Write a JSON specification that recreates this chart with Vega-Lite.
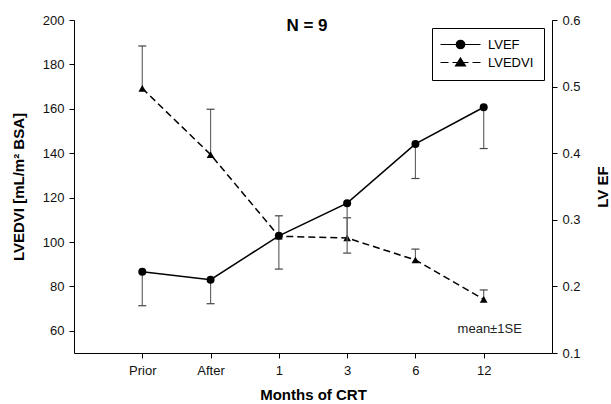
{
  "$schema": "https://vega.github.io/schema/vega-lite/v6.json",
  "width": 478,
  "height": 333,
  "autosize": {"type": "none"},
  "padding": {"left": 74, "top": 20, "right": 59, "bottom": 51},
  "background": "white",
  "title": {"text": "N = 9", "anchor": "middle", "font": "Liberation Sans", "fontSize": 17, "fontWeight": "bold", "color": "black", "baseline": "top", "offset": -21, "dx": -6},
  "config": {
    "view": {"stroke": null},
    "font": "Liberation Sans",
    "axis": {"domainColor": "black", "tickColor": "black", "labelColor": "#111", "titleColor": "black", "labelFont": "Liberation Sans", "titleFont": "Liberation Sans", "labelFontSize": 13, "titleFontSize": 15, "titleFontWeight": "bold", "grid": false, "tickSize": 5, "domainWidth": 1, "tickWidth": 1},
    "legend": {"orient": "top-right", "offset": 8, "padding": 10, "strokeColor": "black", "fillColor": "white", "labelFont": "Liberation Sans", "labelFontSize": 13, "labelColor": "black", "symbolSize": 100, "symbolStrokeWidth": 1.2, "symbolStrokeColor": "black", "symbolFillColor": "black", "symbolOffset": 12, "labelOffset": 21, "rowPadding": 3, "symbolOpacity": 1}
  },
  "datasets": {
    "lvedvi": [
      {"month": "Prior", "mean": 169.2, "se_end": 188.3},
      {"month": "After", "mean": 139.4, "se_end": 159.8},
      {"month": "1", "mean": 102.6, "se_end": 111.8},
      {"month": "3", "mean": 101.8, "se_end": 110.9},
      {"month": "6", "mean": 91.9, "se_end": 96.8},
      {"month": "12", "mean": 74.2, "se_end": 78.4}
    ],
    "lvef": [
      {"month": "Prior", "mean": 0.222, "se_end": 0.171},
      {"month": "After", "mean": 0.21, "se_end": 0.174},
      {"month": "1", "mean": 0.276, "se_end": 0.226},
      {"month": "3", "mean": 0.325, "se_end": 0.25},
      {"month": "6", "mean": 0.414, "se_end": 0.362},
      {"month": "12", "mean": 0.469, "se_end": 0.407}
    ],
    "note": [
      {"month": "12", "y": 61, "label": "mean±1SE"}
    ]
  },
  "encoding": {
    "x": {"field": "month", "type": "ordinal", "sort": ["Prior", "After", "1", "3", "6", "12"], "scale": {"type": "point", "padding": 1}, "axis": {"title": "Months of CRT", "labelAngle": 0, "labelPadding": 6, "titlePadding": 10}}
  },
  "layer": [
    {
      "data": {"name": "lvedvi"},
      "layer": [
        {"mark": {"type": "rule", "color": "#666", "strokeWidth": 1.2},
         "encoding": {"y": {"field": "mean", "type": "quantitative", "title": "LVEDVI [mL/m² BSA]", "scale": {"domain": [50, 200], "nice": false, "zero": false}, "axis": {"orient": "left", "values": [60, 80, 100, 120, 140, 160, 180, 200], "titlePadding": 16, "labelPadding": 5}}, "y2": {"field": "se_end"}}},
        {"mark": {"type": "tick", "color": "#444", "size": 8, "thickness": 1.2, "opacity": 1},
         "encoding": {"y": {"field": "se_end", "type": "quantitative", "title": "LVEDVI [mL/m² BSA]"}}},
        {"mark": {"type": "line", "color": "black", "strokeWidth": 1.5, "strokeDash": [7, 4]},
         "encoding": {"y": {"field": "mean", "type": "quantitative", "title": "LVEDVI [mL/m² BSA]"}}},
        {"mark": {"type": "point", "shape": "triangle-up", "filled": true, "color": "black", "size": 60, "opacity": 1},
         "encoding": {"y": {"field": "mean", "type": "quantitative", "title": "LVEDVI [mL/m² BSA]"}}},
        {"data": {"name": "note"},
         "mark": {"type": "text", "fontSize": 13, "dx": 6, "color": "#222", "baseline": "middle"},
         "encoding": {"text": {"field": "label"}, "y": {"field": "y", "type": "quantitative", "title": "LVEDVI [mL/m² BSA]"}}}
      ]
    },
    {
      "data": {"name": "lvef"},
      "layer": [
        {"mark": {"type": "rule", "color": "#666", "strokeWidth": 1.2},
         "encoding": {"y": {"field": "mean", "type": "quantitative", "title": "LV EF", "scale": {"domain": [0.1, 0.6], "nice": false, "zero": false}, "axis": {"orient": "right", "values": [0.1, 0.2, 0.3, 0.4, 0.5, 0.6], "format": ".1f", "titlePadding": 30, "titleAngle": 270, "labelPadding": 5}}, "y2": {"field": "se_end"}}},
        {"mark": {"type": "tick", "color": "#444", "size": 8, "thickness": 1.2, "opacity": 1},
         "encoding": {"y": {"field": "se_end", "type": "quantitative", "title": "LV EF"}}},
        {"mark": {"type": "line", "color": "black", "strokeWidth": 1.5},
         "encoding": {"y": {"field": "mean", "type": "quantitative", "title": "LV EF"}}},
        {"mark": {"type": "point", "shape": "circle", "filled": true, "color": "black", "size": 64, "opacity": 1},
         "encoding": {"y": {"field": "mean", "type": "quantitative", "title": "LV EF"}}},
        {"transform": [{"filter": "false"}],
         "mark": {"type": "point", "filled": false, "color": "black", "strokeWidth": 1.2, "opacity": 1},
         "encoding": {
           "y": {"field": "mean", "type": "quantitative", "title": "LV EF"},
           "shape": {"field": "series", "type": "nominal", "scale": {"domain": ["LVEF", "LVEDVI"], "range": [
             "M-4,0L4,0M0.85,0A0.85,0.85,0,1,1,-0.85,0A0.85,0.85,0,1,1,0.85,0ZM-0.29,-0.8L0.29,-0.8M-0.6,-0.6L0.6,-0.6M-0.75,-0.4L0.75,-0.4M-0.83,-0.2L0.83,-0.2M-0.83,0.2L0.83,0.2M-0.75,0.4L0.75,0.4M-0.6,0.6L0.6,0.6M-0.29,0.8L0.29,0.8",
             "M-4,0L-2.4,0M-1.6,0L1.6,0M2.4,0L4,0M0,-0.9L1,0.7L-1,0.7ZM-0.12,-0.7L0.12,-0.7M-0.25,-0.5L0.25,-0.5M-0.37,-0.3L0.37,-0.3M-0.5,-0.1L0.5,-0.1M-0.62,0.1L0.62,0.1M-0.75,0.3L0.75,0.3M-0.87,0.5L0.87,0.5"
           ]},
             "legend": {"title": null, "symbolStrokeColor": "black", "symbolFillColor": "black", "symbolStrokeWidth": 1.2}}
         }}
      ]
    }
  ],
  "resolve": {"scale": {"y": "independent"}}
}
